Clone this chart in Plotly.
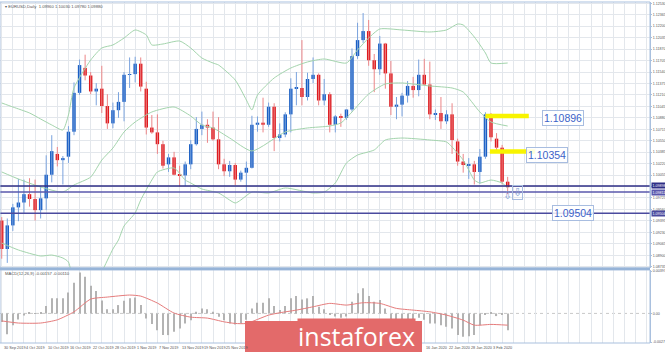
import plotly.graph_objects as go

# ---------------- data ----------------
opens = [1.0940,1.0899,1.0933,1.0959,1.0966,1.0978,1.0971,1.0955,1.0972,1.1006,
         1.1036,1.1027,1.1032,1.1068,1.1124,1.1160,1.1149,1.1126,1.1130,1.1105,
         1.1080,1.1099,1.1111,1.1150,1.1151,1.1166,1.1130,1.1074,1.1067,1.1050,
         1.1021,1.1031,1.1006,1.1005,1.1021,1.1050,1.1072,1.1078,1.1074,1.1057,
         1.1021,1.1011,1.1020,1.0999,1.1009,1.1016,1.1078,1.1081,1.1078,1.1104,
         1.1059,1.1064,1.1093,1.1130,1.1131,1.1118,1.1144,1.1150,1.1113,1.1122,
         1.1078,1.1090,1.1088,1.1100,1.1177,1.1200,1.1213,1.1171,1.1158,1.1195,
         1.1152,1.1104,1.1107,1.1120,1.1134,1.1128,1.1150,1.1136,1.1093,1.1095,
         1.1083,1.1093,1.1054,1.1025,1.1020,1.1021,1.1010,1.1032,1.1093,1.1058,
         1.1045,1.0996]
highs = [1.0945,1.0943,1.0964,1.1000,1.0999,1.1001,1.0999,1.0990,1.1034,1.1063,
         1.1046,1.1033,1.1076,1.1139,1.1172,1.1179,1.1154,1.1138,1.1163,1.1122,
         1.1110,1.1125,1.1154,1.1175,1.1176,1.1175,1.1140,1.1092,1.1093,1.1055,
         1.1036,1.1039,1.1019,1.1025,1.1056,1.1089,1.1097,1.1086,1.1097,1.1089,
         1.1029,1.1026,1.1023,1.1012,1.1025,1.1091,1.1090,1.1117,1.1110,1.1109,
         1.1080,1.1096,1.1145,1.1154,1.1200,1.1153,1.1175,1.1152,1.1144,1.1125,
         1.1092,1.1094,1.1100,1.1188,1.1225,1.1239,1.1229,1.1180,1.1206,1.1196,
         1.1170,1.1118,1.1124,1.1141,1.1147,1.1172,1.1173,1.1169,1.1100,1.1118,
         1.1099,1.1109,1.1058,1.1036,1.1030,1.1026,1.1043,1.1096,1.1095,1.1066,
         1.1049,1.1003]
lows = [1.0885,1.0879,1.0925,1.0939,1.0951,1.0960,1.0940,1.0943,1.0955,1.0995,
        1.1018,1.0992,1.1023,1.1063,1.1121,1.1142,1.1122,1.1106,1.1095,1.1072,
        1.1073,1.1088,1.1083,1.1131,1.1139,1.1126,1.1064,1.1065,1.1036,1.1015,
        1.1010,1.1005,1.0989,1.0990,1.1014,1.1048,1.1063,1.1052,1.1055,1.1014,
        1.1004,1.1003,1.0991,1.0996,1.0981,1.1015,1.1068,1.1067,1.1075,1.1040,
        1.1054,1.1060,1.1067,1.1106,1.1106,1.1113,1.1138,1.1106,1.1106,1.1067,
        1.1067,1.1075,1.1085,1.1097,1.1173,1.1196,1.1163,1.1125,1.1150,1.1130,
        1.1092,1.1086,1.1090,1.1110,1.1117,1.1119,1.1135,1.1086,1.1085,1.1072,
        1.1079,1.1036,1.1019,1.1009,1.1000,1.0992,1.0993,1.1029,1.1054,1.1039,
        1.0992,1.0978]
closes = [1.0899,1.0933,1.0959,1.0966,1.0978,1.0971,1.0955,1.0972,1.1006,1.1040,
          1.1027,1.1030,1.1068,1.1124,1.1164,1.1149,1.1126,1.1130,1.1105,1.1080,
          1.1099,1.1111,1.1150,1.1151,1.1166,1.1133,1.1074,1.1067,1.1050,1.1019,
          1.1031,1.1006,1.1005,1.1021,1.1050,1.1072,1.1078,1.1074,1.1057,1.1021,
          1.1011,1.1020,1.0999,1.1009,1.1016,1.1078,1.1081,1.1078,1.1104,1.1059,
          1.1064,1.1093,1.1130,1.1131,1.1118,1.1144,1.1150,1.1113,1.1122,1.1078,
          1.1090,1.1088,1.1100,1.1177,1.1200,1.1213,1.1171,1.1158,1.1195,1.1152,
          1.1104,1.1107,1.1120,1.1134,1.1128,1.1150,1.1136,1.1093,1.1095,1.1083,
          1.1093,1.1056,1.1025,1.1020,1.1021,1.1010,1.1032,1.1093,1.1060,1.1045,
          1.0996,1.0988]
candle_idx = list(range(len(closes)))

# Bollinger bands read at sample candles
bb_upper_idx = [0,2,5,7,9,11,12,13,16,18,20,22,24,26,27,29,32,34,36,38,39,42,44,45,46,49,52,55,58,62,64,66,68,72,77,80,82,83,85,87,88,91]
bb_upper = [1.11094,1.11036,1.10950,1.10863,1.10777,1.10705,1.10921,1.11310,1.11713,1.11886,
            1.11930,1.12030,1.12146,1.12074,1.11930,1.11944,1.11987,1.11886,1.11742,1.11670,
            1.11641,1.11425,1.11137,1.10993,1.11209,1.11454,1.11598,1.11685,1.11728,1.11670,
            1.11858,1.12030,1.12160,1.12146,1.12117,1.12146,1.12232,1.12218,1.12045,1.11814,
            1.11670,1.11670]
bb_mid_idx = [0,3,7,11,13,16,18,20,22,24,27,31,34,36,38,41,45,51,55,59,61,63,66,69,72,77,81,83,86,88,91]
bb_mid = [1.10100,1.09999,1.09883,1.09811,1.09912,1.10027,1.10272,1.10445,1.10676,1.10820,
          1.10964,1.11036,1.10906,1.10777,1.10734,1.10589,1.10402,1.10676,1.10734,1.10762,
          1.10806,1.10964,1.11224,1.11368,1.11382,1.11339,1.11310,1.11252,1.10964,1.10820,
          1.10762]
bb_lower_idx = [0,3,7,9,11,12,13,16,18,20,21,22,24,25,27,28,31,33,34,36,39,42,43,45,48,51,56,58,60,62,64,67,69,72,77,80,81,83,84,85,86,88,90,91]
bb_lower = [1.09076,1.08976,1.08889,1.08903,1.08860,1.08803,1.08514,1.08342,1.08659,1.08990,
            1.09120,1.09321,1.09509,1.09696,1.09984,1.10100,1.10157,1.09984,1.09941,1.09855,
            1.09797,1.09653,1.09696,1.09811,1.09797,1.09869,1.09797,1.09811,1.09941,1.10229,
            1.10344,1.10417,1.10561,1.10589,1.10561,1.10532,1.10460,1.10272,1.10128,1.09984,
            1.09941,1.09984,1.09941,1.09869]

# MACD(12,26,9): histogram per candle and signal line samples
macd_hist = [-0.0008,-0.00194,-0.00110,-0.00056,-0.0002,0.00009,0.00003,0.00005,0.00069,0.00141,
             0.00141,0.00141,0.00197,0.00288,0.00382,0.00344,0.00260,0.00210,0.00120,0.00038,
             0.00038,0.00078,0.00119,0.00141,0.00150,0.00078,-0.00047,-0.00100,-0.00157,-0.00203,
             -0.00203,-0.00172,-0.00141,-0.00094,-0.00063,0.00016,0.00047,0.00038,0.00016,-0.00031,
             -0.00063,-0.00094,-0.00103,-0.00094,-0.0006,0.00047,0.00100,0.00100,0.00141,0.00069,
             0.00031,0.00069,0.00141,0.00163,0.00131,0.00141,0.00163,0.00063,0.00038,-0.0001,
             -0.0003,-0.0004,-0.0003,0.00110,0.00188,0.00235,0.00163,0.00110,0.00125,0.00047,
             -0.00056,-0.00056,-0.00056,-0.00056,-0.00056,-0.0004,-0.0006,-0.00094,-0.00094,-0.00110,
             -0.00125,-0.00141,-0.00203,-0.00219,-0.00213,-0.00203,-0.00110,-0.0001,0.00006,-0.00025,
             -0.00016,-0.00157]
signal_idx = [0,3,7,10,13,16,19,23,25,28,31,34,37,40,42,44,48,50,53,56,59,62,65,68,71,74,77,80,83,85,88,91]
signal_vals = [-0.0007,-0.0009,-0.0009,-0.0006,0.00015,0.00134,0.00153,0.00172,0.00162,0.00097,
               0.00003,-0.00035,-0.00044,-0.00079,-0.00094,-0.00094,-0.00016,0.00006,0.00031,0.00062,
               0.00094,0.00078,0.00100,0.00094,0.00047,0.00031,0.00015,-0.00016,-0.00063,-0.0011,
               -0.00103,-0.0011]

price_ticks = [1.08735,1.08900,1.09065,1.09230,1.09395,1.09560,1.09725,1.09890,1.10055,1.10220,
               1.10385,1.10550,1.10715,1.10880,1.11045,1.11210,1.11375,1.11540,1.11705,1.11870,
               1.12035,1.12200,1.12365,1.12530]
macd_ticks = [0.00397, 0.0, -0.00268]
macd_tick_text = ["0.00397", "0.00", "-0.0027"]

date_idx = [0,4,8,12,16,20,24,28,32,36,40,76,80,84,88]
date_labels = ["30 Sep 2019","4 Oct 2019","10 Oct 2019","16 Oct 2019","22 Oct 2019","28 Oct 2019",
               "1 Nov 2019","7 Nov 2019","13 Nov 2019","19 Nov 2019","25 Nov 2019",
               "16 Jan 2020","22 Jan 2020","28 Jan 2020","3 Feb 2020"]

# horizontal levels
nav_levels = [1.09898, 1.09811, 1.09504]
yellow_levels = [1.10905, 1.10395]
yellow_start = [87.0, 87.8]
yellow_end = [94.8, 95.9]
level_labels = ["1.10896", "1.10354", "1.09504"]
level_label_idx = [101.0, 98.0, 102.8]
level_label_price = [1.10878, 1.10344, 1.09509]

# ---------------- figure ----------------
UP, DN = "#1b5fc4", "#dd1a1f"
UPW, DNW = "#7aa3de", "#ec8587"
fig = go.Figure()

up_i = [i for i in candle_idx if closes[i] >= opens[i]]
dn_i = [i for i in candle_idx if closes[i] < opens[i]]

def wick_xy(ids):
    xs, ys = [], []
    for i in ids:
        xs += [i, i, None]
        ys += [lows[i], highs[i], None]
    return xs, ys

for ids, wc in ((up_i, UPW), (dn_i, DNW)):
    wx, wy = wick_xy(ids)
    fig.add_trace(go.Scatter(x=wx, y=wy, mode="lines", line=dict(color=wc, width=1),
                             hoverinfo="skip", showlegend=False, xaxis="x", yaxis="y"))

for ids, col in ((up_i, UP), (dn_i, DN)):
    fig.add_trace(go.Bar(
        x=ids,
        base=[min(opens[i], closes[i]) for i in ids],
        y=[max(abs(closes[i] - opens[i]), 0.00008) for i in ids],
        width=0.62, marker=dict(color=col, line=dict(width=0)),
        showlegend=False, xaxis="x", yaxis="y"))

BB = "#a3d4ac"
for xs, ys in ((bb_upper_idx, bb_upper), (bb_mid_idx, bb_mid), (bb_lower_idx, bb_lower)):
    fig.add_trace(go.Scatter(x=xs, y=ys, mode="lines", line=dict(color=BB, width=1, shape="spline", smoothing=0.6),
                             showlegend=False, xaxis="x", yaxis="y"))

# MACD
fig.add_trace(go.Bar(x=candle_idx, y=macd_hist, width=0.2, marker=dict(color="#b3b3b3", line=dict(width=0)),
                     showlegend=False, xaxis="x2", yaxis="y2"))
fig.add_trace(go.Scatter(x=signal_idx, y=signal_vals, mode="lines",
                         line=dict(color="#e57b7b", width=1, shape="spline", smoothing=0.6),
                         showlegend=False, xaxis="x2", yaxis="y2"))

# ---------------- layout ----------------
GRID = "#e3e7ec"
FRAME = "#a9c0de"
XR = [-0.31, 116.6]
xt = list(range(0, 117, 2))
MAIN_DOM = [0.2199, 1.0]
MACD_DOM = [0.0, 0.2141]
TF = "Liberation Sans Narrow, Liberation Sans, Arial"

shapes = []
nav_cols = ["#2e2e86", "#5a58ad", "#4a4a9e"]
for lv, c in zip(nav_levels, nav_cols):
    shapes.append(dict(type="line", xref="paper", yref="y", x0=0, x1=1, y0=lv, y1=lv,
                       line=dict(color=c, width=1.5)))
for lv, a, b in zip(yellow_levels, yellow_start, yellow_end):
    shapes.append(dict(type="line", xref="x", yref="y", x0=a, x1=b, y0=lv, y1=lv,
                       line=dict(color="#f8f400", width=4.5)))
shapes.append(dict(type="rect", xref="paper", yref="paper", x0=0, x1=1, y0=MAIN_DOM[0], y1=1,
                   line=dict(color=FRAME, width=1)))
shapes.append(dict(type="rect", xref="paper", yref="paper", x0=0, x1=1, y0=0, y1=MACD_DOM[1],
                   line=dict(color=FRAME, width=1)))
shapes.append(dict(type="line", xref="paper", yref="paper", x0=0, x1=1, y0=0.2178, y1=0.2178,
                   line=dict(color="#97b4d8", width=2.5)))
shapes.append(dict(type="line", xref="paper", yref="y2", x0=0, x1=1, y0=0, y1=0,
                   line=dict(color="#c8c8c8", width=1, dash="dot"), layer="below"))
# logo background
shapes.append(dict(type="rect", xref="paper", yref="paper", x0=245/650, x1=422/650,
                   y0=-0.03, y1=(343-321)/341, fillcolor="#e36a6a", line=dict(width=0), layer="above"))

annotations = []
SMALL = dict(size=4.2, color="#555555", family=TF)
annotations.append(dict(xref="paper", yref="paper", x=0.004, y=0.999, xanchor="left", yanchor="top",
                        text="▾ EURUSD,Daily  1.09960 1.10030 1.09780 1.09880", showarrow=False, font=SMALL))
annotations.append(dict(xref="paper", yref="paper", x=0.004, y=(343-273)/341, xanchor="left", yanchor="middle",
                        text="MACD(12,26,9) -0.00157 -0.00110", showarrow=False, font=SMALL))
for ix, lab in zip(date_idx, date_labels):
    annotations.append(dict(xref="x2", yref="paper", x=ix, y=0, xanchor="left", yanchor="top", yshift=-1,
                            text=lab, showarrow=False, font=dict(size=3.8, color="#555555", family=TF)))
for lv, c in zip(nav_levels, nav_cols):
    annotations.append(dict(xref="paper", yref="y", x=1, y=lv, xanchor="left", yanchor="middle", xshift=1,
                            text=f"{lv:.5f}", showarrow=False, bgcolor=c, borderpad=0.5,
                            font=dict(size=3.6, color="white", family=TF)))
for lab, ix, pr in zip(level_labels, level_label_idx, level_label_price):
    annotations.append(dict(xref="x", yref="y", x=ix, y=pr, text=lab, showarrow=False,
                            font=dict(size=10.5, color="#3b62c8", family="Liberation Sans"),
                            bgcolor="rgba(255,255,255,0.85)", bordercolor="#a8bde0", borderwidth=1, borderpad=1))
annotations.append(dict(xref="x", yref="y", x=91, y=1.09760, text="⇩", showarrow=False,
                        font=dict(size=11, color="#7f9fd4", family="DejaVu Sans")))
annotations.append(dict(xref="x", yref="y", x=92.7, y=1.09810, text="⇩", showarrow=False,
                        font=dict(size=11, color="#7f9fd4", family="DejaVu Sans"),
                        bordercolor="#a8bde0", borderwidth=1, borderpad=0))
# logo text on the coral box (own background so it is never covered)
annotations.append(dict(xref="paper", yref="paper", x=356/650, y=(343-336)/341, xanchor="center", yanchor="middle",
                        bgcolor="#e36a6a", borderpad=0,
                        text="instaforex", showarrow=False,
                        font=dict(size=25, color="#ffffff", family="Open Sans")))

fig.update_layout(
    width=665, height=352,
    margin=dict(l=0, r=15, t=2, b=9),
    paper_bgcolor="white", plot_bgcolor="white",
    barmode="overlay", showlegend=False, hovermode=False,
    xaxis=dict(domain=[0, 1], range=XR, anchor="y", tickvals=xt, showticklabels=False,
               showgrid=True, gridcolor=GRID, gridwidth=1, zeroline=False, showline=False, ticks="",
               automargin=False),
    yaxis=dict(domain=MAIN_DOM, range=[1.08716, 1.12549], side="right", anchor="x",
               tickvals=price_ticks, ticktext=[f"{v:.5f}" for v in price_ticks],
               tickfont=dict(size=3.6, color="#555555", family=TF),
               showgrid=True, gridcolor=GRID, gridwidth=1, zeroline=False,
               ticks="outside", ticklen=1, tickcolor=FRAME, showline=True, linecolor=FRAME,
               automargin=False),
    xaxis2=dict(domain=[0, 1], range=XR, anchor="y2", matches="x", tickvals=xt, showticklabels=False,
                showgrid=True, gridcolor=GRID, gridwidth=1, zeroline=False, showline=False, ticks="",
                automargin=False),
    yaxis2=dict(domain=MACD_DOM, range=[-0.00277, 0.004066], side="right", anchor="x2",
                tickvals=macd_ticks, ticktext=macd_tick_text,
                tickfont=dict(size=3.6, color="#555555", family=TF),
                showgrid=False, zeroline=False, ticks="outside", ticklen=1, tickcolor=FRAME,
                showline=True, linecolor=FRAME, automargin=False),
    shapes=shapes, annotations=annotations,
)

fig.write_html("out.html")
